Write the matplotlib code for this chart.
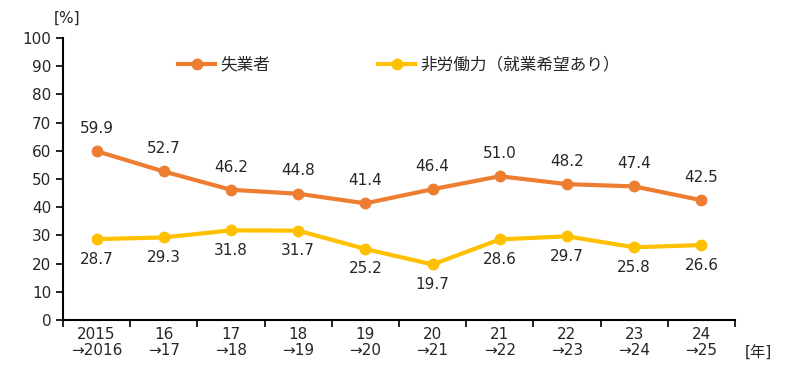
import matplotlib.pyplot as plt

plt.rcParams['font.family'] = ['DejaVu Sans', 'Noto Sans CJK JP']

categories = ['2015\n→2016', '16\n→17', '17\n→18', '18\n→19', '19\n→20',
              '20\n→21', '21\n→22', '22\n→23', '23\n→24', '24\n→25']
unemployed = [59.9, 52.7, 46.2, 44.8, 41.4, 46.4, 51.0, 48.2, 47.4, 42.5]
not_in_labor = [28.7, 29.3, 31.8, 31.7, 25.2, 19.7, 28.6, 29.7, 25.8, 26.6]

orange = '#ED7D31'
yellow = '#FFC000'
text_color = '#262626'

fig = plt.figure(figsize=(8, 3.81), dpi=100)
ax = fig.add_axes([0.07875, 0.16, 0.84, 0.74])

x = list(range(len(categories)))
ax.plot(x, unemployed, color=orange, lw=3, marker='o', ms=7.5, label='失業者')
ax.plot(x, not_in_labor, color=yellow, lw=3, marker='o', ms=7.5, label='非労働力（就業希望あり）')

for xi, v in zip(x, unemployed):
    ax.annotate(f'{v:.1f}', (xi, v), xytext=(0, 11), textcoords='offset points',
                ha='center', va='bottom', fontsize=11, color=text_color)
for xi, v in zip(x, not_in_labor):
    ax.annotate(f'{v:.1f}', (xi, v), xytext=(0, -9), textcoords='offset points',
                ha='center', va='top', fontsize=11, color=text_color)

ax.set_xlim(-0.5, len(categories) - 0.5)
ax.set_ylim(0, 100)
ax.set_yticks(range(0, 101, 10))
ax.set_xticks([i - 0.5 for i in range(len(categories) + 1)])
ax.set_xticklabels([])
ax.set_xticks(x, minor=True)
ax.set_xticklabels(categories, minor=True, fontsize=11, color=text_color, linespacing=1.1)
ax.tick_params(axis='x', which='minor', length=0, pad=5)
ax.tick_params(axis='x', which='major', length=5, width=1.2, direction='out')
ax.tick_params(axis='y', length=5, width=1.2, direction='out', labelsize=11, labelcolor=text_color)

for s in ['top', 'right']:
    ax.spines[s].set_visible(False)
for s in ['left', 'bottom']:
    ax.spines[s].set_linewidth(1.5)

ax.text(0.006, 1.07, '[%]', transform=ax.transAxes, fontsize=11, color=text_color, ha='center', va='center')
ax.text(1.015, -0.117, '[年]', transform=ax.transAxes, fontsize=11, color=text_color, ha='left', va='center')

ax.legend(loc='center', bbox_to_anchor=(0.5, 0.905), ncol=2, frameon=False, fontsize=12,
          handlelength=2.2, columnspacing=6.5, handletextpad=0.3, labelcolor=text_color)

fig.savefig('out.png', dpi=100)
